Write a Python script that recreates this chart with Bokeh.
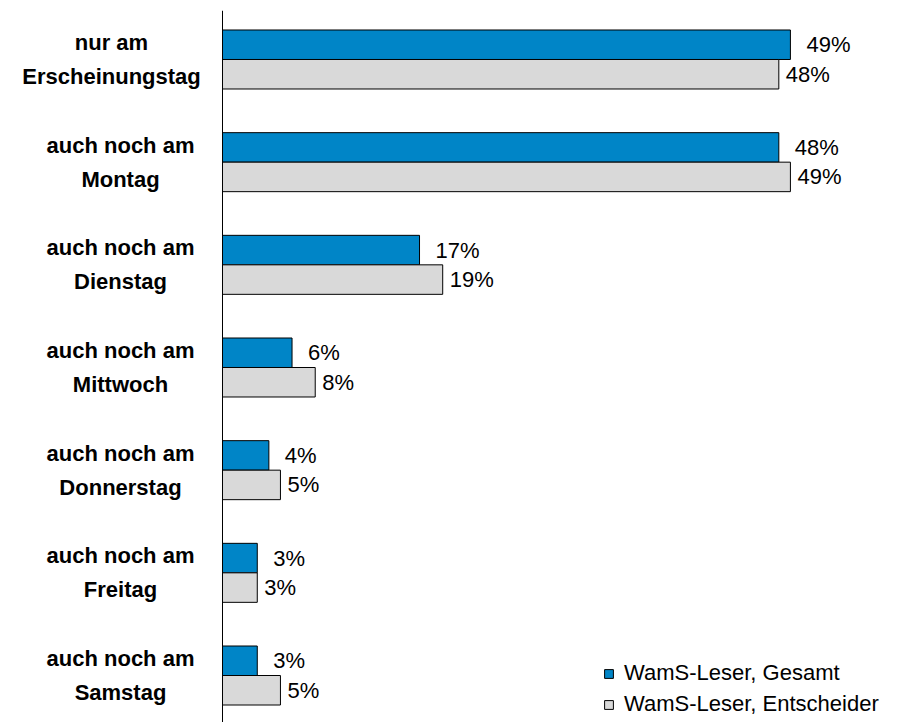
from bokeh.plotting import figure
from bokeh.models import ColumnDataSource, Range1d, Span, Legend, LegendItem
from bokeh.core.properties import value
from bokeh.embed import file_html
from bokeh.resources import INLINE

categories = ["nur am\nErscheinungstag", "auch noch am\nMontag", "auch noch am\nDienstag",
              "auch noch am\nMittwoch", "auch noch am\nDonnerstag", "auch noch am\nFreitag",
              "auch noch am\nSamstag"]
gesamt = [49, 48, 17, 6, 4, 3, 3]
entscheider = [48, 49, 19, 8, 5, 3, 5]
series_names = ["WamS-Leser, Gesamt", "WamS-Leser, Entscheider"]

BLUE = "#0085C7"
GREY = "#D9D9D9"
FONT = "Liberation Sans"

W, H = 912, 722
px_per = 11.59          # pixels per percent
axis_px = 222           # axis position within figure
top_px = 10
group_px = 102.67       # pixels between groups
bar_h = 29.5 / group_px

n = len(categories)
yc = [-i for i in range(n)]
# category labels are centred ~102px left of the axis; very long ones are shifted left to fit
label_off = [-111 if max(len(s) for s in c.split("\n")) > 13 else -102 for c in categories]
src = ColumnDataSource(dict(
    cat=categories, yc=yc,
    yb=[y + bar_h / 2 for y in yc], yg=[y - bar_h / 2 for y in yc],
    g=gesamt, e=entscheider,
    gl=[f"{v}%" for v in gesamt], el=[f"{v}%" for v in entscheider],
    zero=[0] * n, loff=label_off,
))

p = figure(width=W, height=H, output_backend="svg", toolbar_location=None,
           x_range=Range1d(-axis_px / px_per, (W - axis_px) / px_per),
           y_range=Range1d(-(n - 1) - 47 / group_px, 49 / group_px),
           min_border_left=0, min_border_right=0, min_border_top=top_px, min_border_bottom=0)
p.xaxis.visible = False
p.yaxis.visible = False
p.grid.visible = False
p.outline_line_color = None

rb = p.hbar(y="yb", left=0, right="g", height=bar_h, source=src,
            fill_color=BLUE, line_color="black", line_width=1)
rg = p.hbar(y="yg", left=0, right="e", height=bar_h, source=src,
            fill_color=GREY, line_color="black", line_width=1)

p.add_layout(Span(location=0, dimension="height", line_color="black", line_width=1))

p.text(x="g", y="yb", text="gl", source=src, x_offset=16, text_baseline="middle",
       text_font=value(FONT), text_font_size="22px", text_color="black")
p.text(x="e", y="yg", text="el", source=src, x_offset=7, text_baseline="middle",
       text_font=value(FONT), text_font_size="22px", text_color="black")
p.text(x="zero", y="yc", text="cat", source=src, x_offset="loff", text_align="center",
       text_baseline="middle", text_font=value(FONT), text_font_size="22px",
       text_font_style="bold", text_color="black", text_line_height=1.35)

legend = Legend(items=[LegendItem(label=series_names[0], renderers=[rb]),
                       LegendItem(label=series_names[1], renderers=[rg])],
                location=(603, 5), glyph_width=11, glyph_height=11, label_standoff=10,
                spacing=5, padding=0, margin=0, border_line_color=None,
                background_fill_alpha=0, label_text_font=FONT,
                label_text_font_size="22px", label_text_color="black")
p.add_layout(legend)

open("out.html", "w").write(file_html(p, INLINE))
